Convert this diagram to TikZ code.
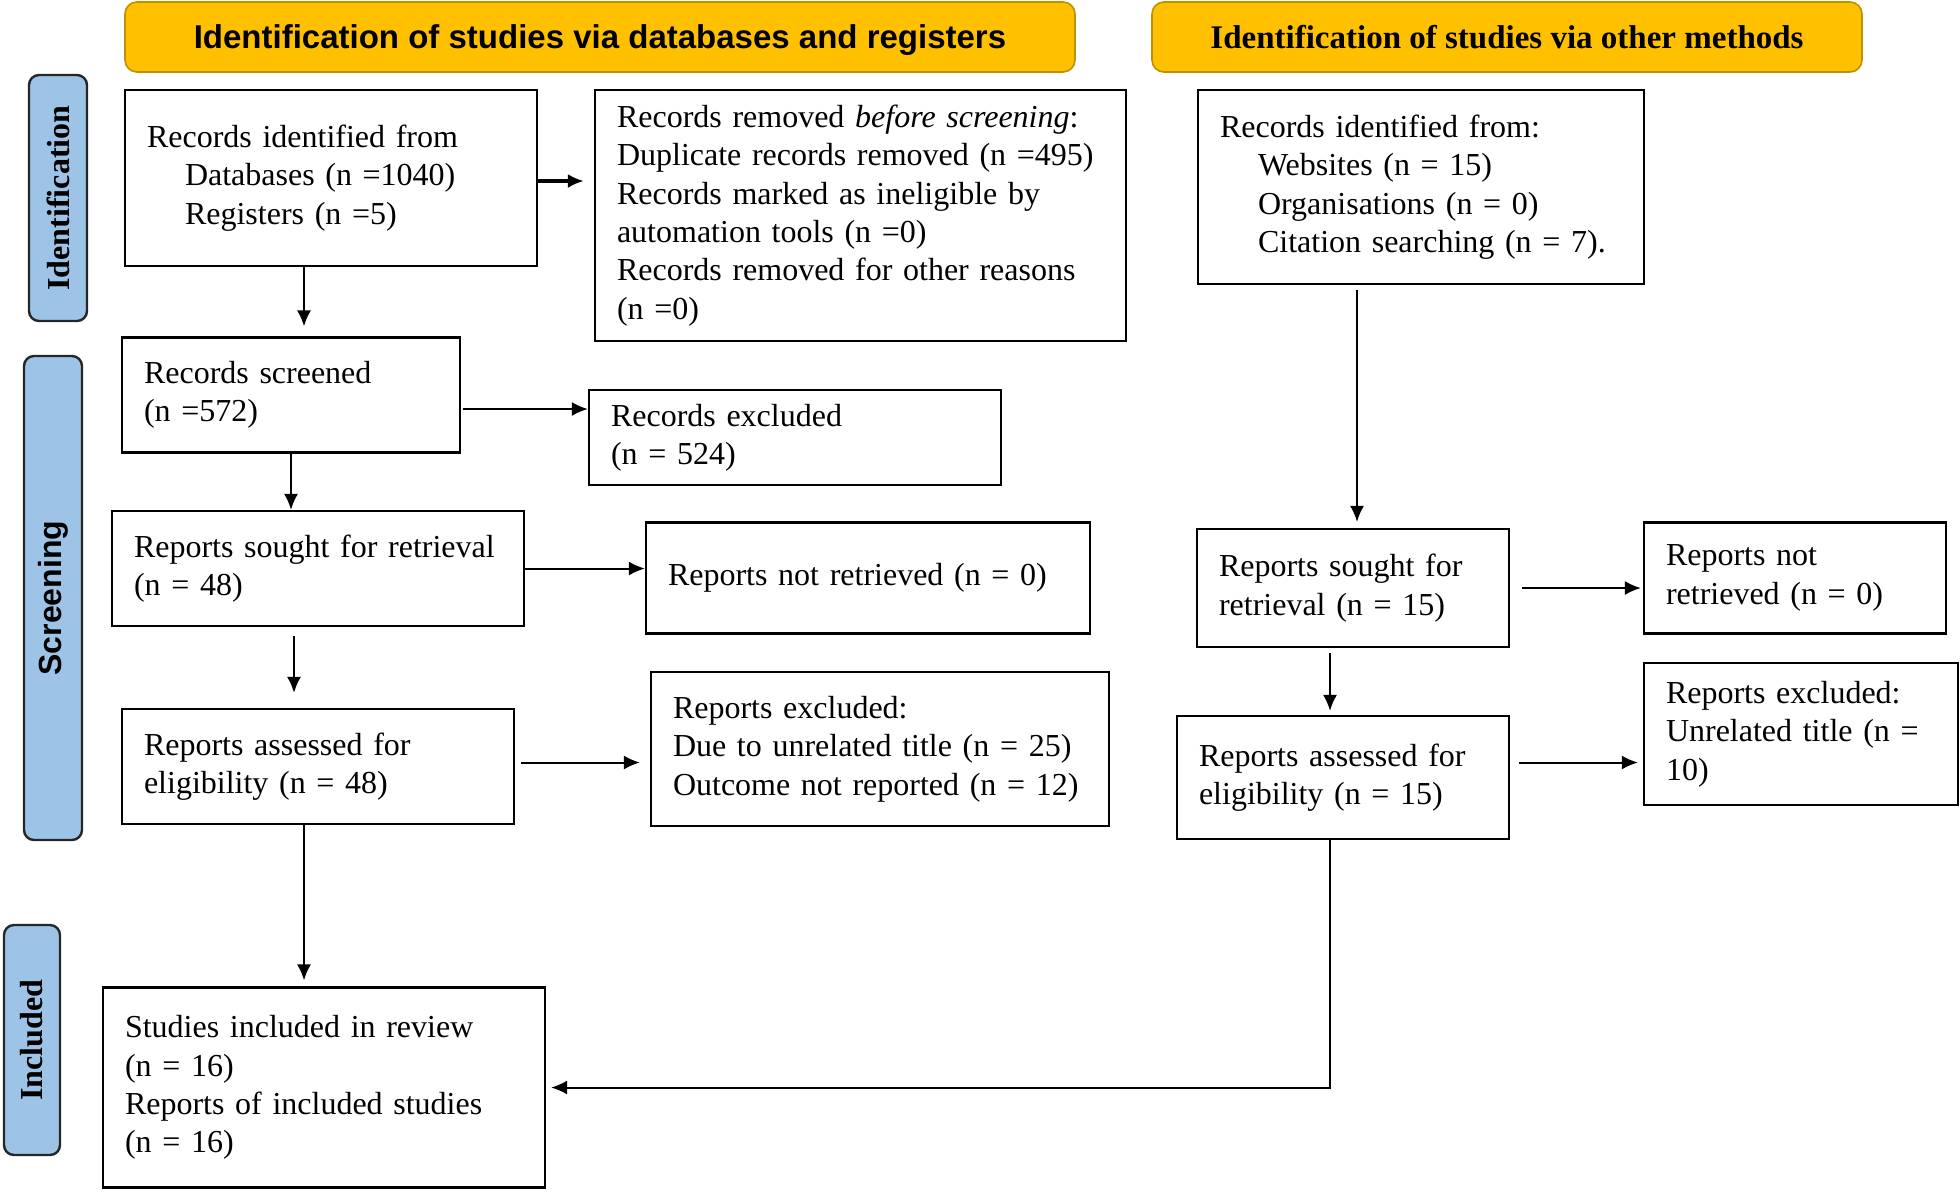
\documentclass[tikz,border=0pt]{standalone}
\usepackage{fontspec}
\setmainfont{Liberation Serif}
\newfontfamily\hdrsans{Liberation Sans}
\usepackage{xcolor}
\usepackage{tikz}
\usetikzlibrary{shapes.geometric, arrows.meta}

\definecolor{hdrfill}{HTML}{FFC000}
\definecolor{hdrline}{HTML}{BF9000}
\definecolor{sidefill}{HTML}{9DC3E6}

\begin{document}
\begin{tikzpicture}[
                x=0.5pt, y=-0.5pt,
                box/.style={draw, line width=1.1pt, align=left, inner xsep=11pt, inner ysep=0pt,
                            font=\fontsize{16}{19.2}\selectfont}, % plain record box
                hdr/.style={draw=hdrline, fill=hdrfill, rounded corners=6pt, line width=0.8pt,
                            minimum height=35pt, text depth=0pt}, % yellow column title
                side/.style={draw=black!85, fill=sidefill, rounded corners=5pt, line width=1.2pt,
                             rotate=90, minimum height=29pt}, % blue stage label
                arr/.style={-{Latex[length=8pt,width=7pt]}, line width=1pt},
                thickarr/.style={arr, line width=2.4pt}
                ]
                \useasboundingbox (0,0) rectangle (1960,1191);

                % column titles
                \node[hdr, minimum width=475pt, font=\hdrsans\bfseries\fontsize{16.5}{19}\selectfont] (hdrdb) at (600,37)
                    {Identification of studies via databases and registers};
                \node[hdr, minimum width=355pt, font=\bfseries\fontsize{16.5}{19}\selectfont] (hdrother) at (1507,37)
                    {Identification of studies via other methods};

                % stage labels
                \node[side, minimum width=123pt, font=\bfseries\fontsize{16}{19}\selectfont] (sideid) at (58,198) {Identification};
                \node[side, minimum width=242pt, font=\hdrsans\bfseries\fontsize{16}{19}\selectfont] (sidescr) at (53,598) {Screening};
                \node[side, minimum width=115pt, minimum height=28pt, font=\bfseries\fontsize{16}{19}\selectfont] (sideinc) at (32,1040) {Included};

                % databases and registers
                \node[box, text width=184pt, minimum height=88pt] (dbid) at (331,178)
                    {Records identified from\\\hspace*{19pt}Databases (n =1040)\\\hspace*{19pt}Registers (n =5)};
                \node[box, text width=243.5pt, minimum height=125.5pt] (dbremoved) at (860.5,215.5)
                    {Records removed \textit{before screening}:\\Duplicate records removed (n =495)\\Records marked as ineligible by\\automation tools (n =0)\\Records removed for other reasons\\(n =0)};
                \node[box, text width=147pt, minimum height=57.5pt] (dbscreened) at (291,395)
                    {Records screened\\(n =572)};
                \node[box, text width=184pt, minimum height=47.5pt] (dbexcluded) at (795,437.5)
                    {Records excluded\\(n = 524)};
                \node[box, text width=184pt, minimum height=57.5pt] (dbsought) at (318,568.5)
                    {Reports sought for retrieval\\(n = 48)};
                \node[box, text width=200pt, minimum height=55.5pt] (dbnotret) at (868,578)
                    {Reports not retrieved (n = 0)};
                \node[box, text width=174pt, minimum height=57.5pt] (dbassessed) at (318,766.5)
                    {Reports assessed for\\eligibility (n = 48)};
                \node[box, text width=207pt, minimum height=77pt] (dbrepexcl) at (880,749)
                    {Reports excluded:\\Due to unrelated title (n = 25)\\Outcome not reported (n = 12)};
                \node[box, text width=199pt, minimum height=100pt] (included) at (324,1087.5)
                    {Studies included in review\\(n = 16)\\Reports of included studies\\(n = 16)};

                % other methods
                \node[box, text width=201pt, minimum height=97pt] (otid) at (1421,187)
                    {Records identified from:\\\hspace*{19pt}Websites (n = 15)\\\hspace*{19pt}Organisations (n = 0)\\\hspace*{19pt}Citation searching (n = 7).};
                \node[box, text width=134pt, minimum height=59pt] (otsought) at (1353,588)
                    {Reports sought for\\retrieval (n = 15)};
                \node[box, text width=129pt, minimum height=55.5pt] (otnotret) at (1795,578)
                    {Reports not\\retrieved (n = 0)};
                \node[box, text width=144pt, minimum height=61.5pt] (otassessed) at (1343,777.5)
                    {Reports assessed for\\eligibility (n = 15)};
                \node[box, text width=135pt, minimum height=71pt] (otrepexcl) at (1801,734)
                    {Reports excluded:\\Unrelated title (n =\\10)};

                % connectors, left column
                \draw[thickarr, shorten >=5pt] ([yshift=-1.5pt]dbid.east) -- ([yshift=-1.5pt]dbid.east -| dbremoved.west);
                \draw[arr, shorten >=5pt] ([xshift=-13.5pt]dbid.south) -- ([xshift=-13.5pt]dbid.south |- dbscreened.north);
                \draw[arr, shorten <=1pt] ([yshift=-7pt]dbscreened.east) -- ([yshift=-7pt]dbscreened.east -| dbexcluded.west);
                \draw[arr] (dbscreened.south) -- (dbscreened.south |- dbsought.north);
                \draw[arr] (dbsought.east) -- (dbsought.east -| dbnotret.west);
                \draw[arr, shorten <=4.5pt, shorten >=7.5pt] ([xshift=-12pt]dbsought.south) -- ([xshift=-12pt]dbsought.south |- dbassessed.north);
                \draw[arr, shorten <=3pt, shorten >=5pt] ([yshift=2pt]dbassessed.east) -- ([yshift=2pt]dbassessed.east -| dbrepexcl.west);
                \draw[arr, shorten >=3pt] ([xshift=-7pt]dbassessed.south) -- ([xshift=-7pt]dbassessed.south |- included.north);

                % connectors, right column
                \draw[arr, shorten <=2.5pt, shorten >=3pt] ([xshift=-32pt]otid.south) -- ([xshift=-32pt]otid.south |- otsought.north);
                \draw[arr, shorten <=6pt, shorten >=1pt] (otsought.east) -- (otsought.east -| otnotret.west);
                \draw[arr, shorten <=2.5pt, shorten >=2pt] ([xshift=-11.5pt]otsought.south) -- ([xshift=-11.5pt]otsought.south |- otassessed.north);
                \draw[arr, shorten <=4.5pt, shorten >=2.5pt] ([yshift=7.5pt]otassessed.east) -- ([yshift=7.5pt]otassessed.east -| otrepexcl.west);
                \draw[arr, shorten >=2.5pt] ([xshift=-6.5pt]otassessed.south) |- (included.east);
            \end{tikzpicture}
\end{document}
